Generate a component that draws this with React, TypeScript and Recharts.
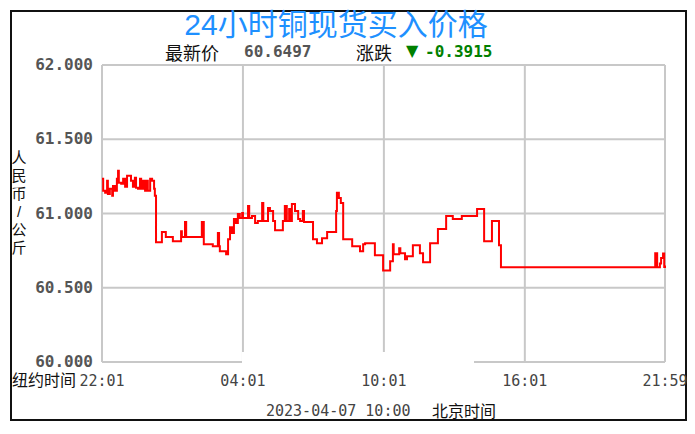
import React from "react";
import { LineChart, Line, XAxis, YAxis, CartesianGrid } from "recharts";

// minutes since 22:01 (New York time) and the buy price
const MINUTES = [
  0, 3, 8, 13, 15, 20, 26, 28, 33, 38, 41, 43, 49, 54, 59, 64, 74, 79, 84, 87,
  92, 97, 100, 105, 110, 115, 117, 123, 128, 133, 135, 138, 153, 163, 181, 202,
  204, 212, 215, 250, 255, 260, 283, 296, 299, 301, 317, 322, 327, 332, 337, 342,
  347, 352, 358, 360, 373, 376, 383, 391, 398, 409, 412, 424, 429, 437, 442, 462,
  467, 472, 478, 480, 485, 493, 501, 506, 513, 516, 539, 549, 562, 575, 598, 600,
  605, 610, 616, 639, 659, 667, 672, 697, 718, 736, 743, 745, 759, 762, 774, 779,
  794, 812, 820, 838, 858, 879, 896, 919, 958, 976, 996, 1014, 1019, 1410, 1413,
  1418, 1425, 1428, 1433, 1436, 1438,
];
const PRICES = [
  61.234, 61.153, 61.139, 61.22, 61.132, 61.166, 61.119, 61.186, 61.153, 61.234,
  61.288, 61.207, 61.2, 61.234, 61.18, 61.254, 61.22, 61.18, 61.241, 61.173,
  61.166, 61.234, 61.166, 61.22, 61.153, 61.22, 61.153, 61.234, 61.22, 61.166,
  61.119, 60.807, 60.875, 60.841, 60.813, 60.881, 60.841, 60.942, 60.841, 60.841,
  60.942, 60.793, 60.78, 60.868, 60.78, 60.746, 60.725, 60.827, 60.908, 60.868,
  60.963, 60.936, 60.997, 60.969, 61.003, 60.969, 61.051, 60.969, 60.983, 60.936,
  60.949, 61.071, 60.949, 61.037, 61.017, 60.949, 60.888, 60.949, 61.051, 60.949,
  61.03, 60.949, 61.064, 61.017, 60.963, 60.949, 61.017, 60.942, 60.827, 60.8,
  60.834, 60.875, 61.017, 61.139, 61.105, 61.071, 60.827, 60.78, 60.746, 60.793,
  60.8, 60.719, 60.617, 60.678, 60.793, 60.725, 60.766, 60.732, 60.692, 60.712,
  60.786, 60.732, 60.671, 60.8, 60.895, 60.983, 60.963, 60.983, 61.03, 60.813,
  60.949, 60.786, 60.638, 60.638, 60.732, 60.638, 60.664, 60.7, 60.73, 60.64,
  60.6497,
];

const TIME_TICKS = [0, 360, 720, 1080, 1438];
const TIME_LABELS = ["22:01", "04:01", "10:01", "16:01", "21:59"];
const PRICE_TICKS = [60, 60.5, 61, 61.5, 62];

const LATEST = "60.6497";
const CHANGE = "-0.3915";
const UNIT_CHARS = ["人", "民", "币", "/", "公", "斤"];

const MONO = "'DejaVu Sans Mono', monospace";
// Liberation Sans first keeps the text boxes compact; the CJK glyphs fall back to Noto
const CJK = "'Liberation Sans', 'Noto Sans CJK SC', sans-serif";

const data = MINUTES.map((t, i) => ({ t, p: PRICES[i] }));

function XTick(props: any) {
  const { x, payload } = props;
  const idx = TIME_TICKS.indexOf(payload.value);
  return (
    <text x={x} y={386} textAnchor="middle" fill="#444" fontSize={15} fontFamily={MONO}>
      {TIME_LABELS[idx]}
    </text>
  );
}

function YTick(props: any) {
  const { y, payload } = props;
  return (
    <text x={93} y={y + 5} textAnchor="end" fill="#555" fontSize={16} fontWeight="bold" fontFamily={MONO}>
      {payload.value.toFixed(3)}
    </text>
  );
}

const abs = (left: number, top: number, extra: React.CSSProperties = {}): React.CSSProperties => ({
  position: "absolute",
  left,
  top,
  whiteSpace: "nowrap",
  ...extra,
});

export default function App() {
  return (
    <div style={{ position: "absolute", left: 0, top: 0, width: 695, height: 434, background: "#fff", overflow: "hidden" }}>
      <div style={{ position: "absolute", left: 10, top: 10, width: 677, height: 411, border: "2px solid #111", boxSizing: "border-box" }} />
      <div style={{ position: "absolute", left: 0, top: 0 }}>
        <LineChart width={695} height={434} data={data} margin={{ top: 65, right: 30, bottom: 42, left: 10 }}>
          <CartesianGrid stroke="#c8c8c8" strokeWidth={2} />
          <XAxis
            dataKey="t"
            type="number"
            domain={[0, 1438]}
            ticks={TIME_TICKS}
            axisLine={false}
            tickLine={false}
            height={30}
            tick={<XTick />}
            interval={0}
          />
          <YAxis
            type="number"
            domain={[60, 62]}
            ticks={PRICE_TICKS}
            axisLine={false}
            tickLine={false}
            width={92}
            tick={<YTick />}
            interval={0}
          />
          <Line
            type="stepAfter"
            dataKey="p"
            stroke="#ff0000"
            strokeWidth={2}
            dot={false}
            isAnimationActive={false}
          />
        </LineChart>
      </div>
      {/* washed-out patch at the bottom of the plot */}
      <div style={abs(242, 352, { width: 232, height: 16, background: "#fff" })} />

      <div style={abs(0, 9, { width: 672, textAlign: "center", color: "#1e90ff", fontSize: 30, lineHeight: "32px", fontFamily: CJK })}>
        24小时铜现货买入价格
      </div>
      <div style={abs(165, 43, { fontSize: 18, lineHeight: "22px", fontFamily: CJK, color: "#111" })}>最新价</div>
      <div style={abs(244, 42, { fontSize: 16, lineHeight: "20px", fontFamily: MONO, fontWeight: "bold", color: "#555" })}>{LATEST}</div>
      <div style={abs(356, 43, { fontSize: 18, lineHeight: "22px", fontFamily: CJK, color: "#111" })}>涨跌</div>
      <div style={abs(406, 41, { fontSize: 16, lineHeight: "20px", fontFamily: "'DejaVu Sans', sans-serif", color: "#008000" })}>▼</div>
      <div style={abs(425, 42, { fontSize: 16, lineHeight: "20px", fontFamily: MONO, fontWeight: "bold", color: "#008000" })}>{CHANGE}</div>

      {UNIT_CHARS.map((c, i) => (
        <div
          key={i}
          style={abs(10, 149 + i * 18, { width: 18, height: 18, fontSize: 15, lineHeight: "18px", fontFamily: CJK, color: "#111", textAlign: "center" })}
        >
          {c}
        </div>
      ))}

      <div style={abs(12, 370, { fontSize: 16, lineHeight: "22px", fontFamily: CJK, color: "#111" })}>纽约时间</div>
      <div style={abs(266, 401, { fontSize: 15, lineHeight: "20px", fontFamily: MONO, color: "#444" })}>2023-04-07 10:00</div>
      <div style={abs(432, 401, { fontSize: 16, lineHeight: "22px", fontFamily: CJK, color: "#111" })}>北京时间</div>
    </div>
  );
}
